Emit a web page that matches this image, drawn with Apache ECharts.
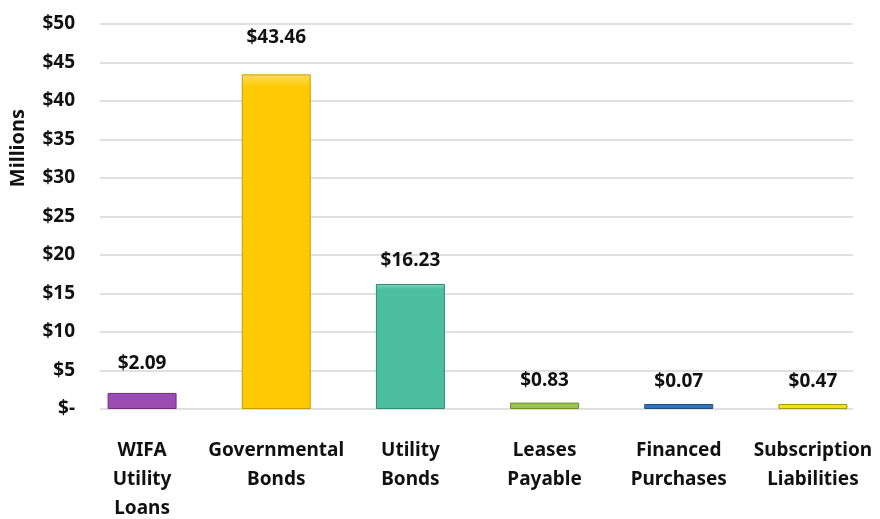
<!DOCTYPE html>
<html>
<head>
<meta charset="utf-8">
<style>
  html, body { margin: 0; padding: 0; background: #ffffff; }
  #chart { width: 880px; height: 519px; }
</style>
<script src="https://cdn.jsdelivr.net/npm/echarts@6/dist/echarts.min.js"></script>
</head>
<body>
<div id="chart"></div>
<script>
// Outstanding debt by type, in millions of dollars
const categories = [
  'WIFA\nUtility\nLoans',
  'Governmental\nBonds',
  'Utility\nBonds',
  'Leases\nPayable',
  'Financed\nPurchases',
  'Subscription\nLiabilities'
];
const amounts = [2.09, 43.46, 16.23, 0.83, 0.07, 0.47];

// Y axis range and tick step (millions)
const yMin = 0;
const yMax = 50;
const yStep = 5;

// Fill and edge colours for each bar
const fills = ['#9a4cb0', '#ffc900', '#4bbf9f', '#9fc350', '#2f73bd', '#f0e11c'];
const edges = ['#6f2f84', '#c99a00', '#2f8c72', '#6f8d2e', '#1f4f86', '#a89a10'];
// Extra lift of each value label above its bar
const labelLift = [14, 21, 8, 7, 7, 7];

function lighten(hex, amt) {
  const n = parseInt(hex.slice(1), 16);
  let r = (n >> 16) & 255, g = (n >> 8) & 255, b = n & 255;
  r = Math.round(r + (255 - r) * amt);
  g = Math.round(g + (255 - g) * amt);
  b = Math.round(b + (255 - b) * amt);
  return 'rgb(' + r + ',' + g + ',' + b + ')';
}

const font = '"Noto Sans", "Open Sans", sans-serif';
const chart = echarts.init(document.getElementById('chart'), null, { renderer: 'canvas' });

const barData = amounts.map((v, i) => ({
  value: v,
  itemStyle: {
    color: {
      type: 'linear', x: 0, y: 0, x2: 0, y2: 1,
      colorStops: [
        { offset: 0, color: lighten(fills[i], 0.35) },
        { offset: 0.04, color: fills[i] },
        { offset: 1, color: fills[i] }
      ]
    },
    borderColor: edges[i],
    borderWidth: 1
  },
  label: { distance: 6 + labelLift[i] }
}));

chart.setOption({
  animation: false,
  backgroundColor: '#ffffff',
  textStyle: { fontFamily: font },
  grid: [
    // gridlines and tick labels
    { left: 100, right: 27, top: 24, bottom: 110, outerBoundsMode: 'none', containLabel: false },
    // bars and category labels
    { left: 75, right: 0, top: 24, bottom: 110, outerBoundsMode: 'none', containLabel: false }
  ],
  xAxis: [
    { type: 'category', gridIndex: 0, data: categories, show: false },
    {
      type: 'category', gridIndex: 1, data: categories,
      axisLine: { show: false },
      axisTick: { show: false },
      axisLabel: {
        interval: 0,
        margin: 27,
        color: '#111111',
        fontFamily: font,
        fontWeight: 'bold',
        fontSize: 19,
        lineHeight: 29
      }
    }
  ],
  yAxis: [
    {
      type: 'value', gridIndex: 0,
      min: yMin, max: yMax, interval: yStep,
      axisLine: { show: false },
      axisTick: { show: false },
      splitLine: { lineStyle: { color: '#e0e0e0', width: 2 } },
      axisLabel: {
        margin: 25,
        color: '#111111',
        fontFamily: font,
        fontWeight: 'bold',
        fontSize: 19,
        formatter: v => (v === 0 ? '$-' : '$' + v)
      }
    },
    {
      type: 'value', gridIndex: 1,
      min: yMin, max: yMax, interval: yStep,
      show: false,
      splitLine: { show: false }
    }
  ],
  graphic: [
    {
      type: 'text',
      x: 18, y: 148,
      rotation: Math.PI / 2,
      style: {
        text: 'Millions',
        fill: '#111111',
        font: 'bold 20px ' + font,
        align: 'center',
        verticalAlign: 'middle'
      }
    }
  ],
  series: [
    {
      type: 'bar',
      xAxisIndex: 1,
      yAxisIndex: 1,
      data: barData,
      barWidth: 69,
      barMinHeight: 5,
      label: {
        show: true,
        position: 'top',
        color: '#111111',
        fontFamily: font,
        fontWeight: 'bold',
        fontSize: 19,
        formatter: p => '$' + p.value.toFixed(2)
      }
    }
  ]
});
</script>
</body>
</html>
